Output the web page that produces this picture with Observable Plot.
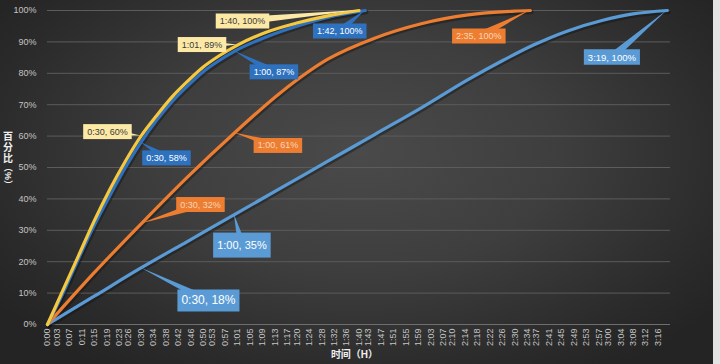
<!DOCTYPE html>
<html><head><meta charset="utf-8">
<script src="https://cdn.jsdelivr.net/npm/d3@7"></script>
<script src="https://cdn.jsdelivr.net/npm/@observablehq/plot@0.6"></script>
<style>
html,body{margin:0;padding:0;width:720px;height:364px;overflow:hidden;}
body{background: radial-gradient(ellipse 62% 72% at 50% 42%, #4a4a4a 0%, #3e3e3e 45%, #2a2a2a 85%, #242424 100%);}
#chart{position:absolute;left:0;top:0;}
#strip{position:absolute;right:0;top:0;width:7px;height:364px;background:#e4e4e4;}
</style></head><body><div id="chart"></div><div id="strip"></div>
<script>
// ---- data ----
const tickLabels = ["0:00","0:03","0:07","0:11","0:15","0:19","0:23","0:26","0:30","0:34","0:38","0:42","0:46","0:50","0:53","0:57","1:01","1:05","1:09","1:13","1:17","1:20","1:24","1:28","1:32","1:36","1:40","1:43","1:47","1:51","1:55","1:59","2:03","2:07","2:10","2:14","2:18","2:22","2:26","2:30","2:34","2:37","2:41","2:45","2:49","2:53","2:57","3:00","3:04","3:08","3:12","3:16"];
const yTicks = [0,0.1,0.2,0.3,0.4,0.5,0.6,0.7,0.8,0.9,1.0];

const seriesNames = ["浅蓝","橙","深蓝","黄"];
// minutes / share
const lightBlueT = [0,15,30,45,60,75,90,105,120,135,146,156,167,178,188,199];
const lightBlueV = [0,0.09,0.18,0.265,0.35,0.435,0.52,0.605,0.69,0.78,0.84,0.89,0.935,0.968,0.989,1.0];
const orangeT = [0,15,30,45,60,75,90,105,120,135,150,155];
const orangeV = [0,0.165,0.32,0.47,0.61,0.74,0.845,0.912,0.958,0.986,0.998,1.0];
const darkBlueT = [0,5,10,15,20,25,30,35,40,45,50,55,60,70,80,90,102];
const darkBlueV = [0,0.10,0.21,0.315,0.41,0.50,0.58,0.65,0.71,0.76,0.805,0.84,0.87,0.915,0.95,0.978,1.0];
const yellowT = [0,5,10,15,20,25,30,35,40,45,50,55,61,70,80,90,100];
const yellowV = [0,0.11,0.22,0.33,0.43,0.52,0.60,0.665,0.725,0.775,0.82,0.855,0.89,0.93,0.96,0.983,1.0];

const calloutText   = ["1:40, 100%","1:01, 89%","0:30, 60%","0:30, 58%","1:00, 87%","1:42, 100%","1:00, 61%","0:30, 32%","2:35, 100%","1:00, 35%","0:30, 18%","3:19, 100%"];
const calloutTime   = [100,61,30,30,60,102,60,30,155,60,30,199];
const calloutValue  = [1.0,0.89,0.60,0.58,0.87,1.0,0.61,0.32,1.0,0.35,0.18,1.0];
const calloutSeries = ["黄","黄","黄","深蓝","深蓝","深蓝","橙","橙","橙","浅蓝","浅蓝","浅蓝"];

const yTitleChars = ["百","分","比"];
const yTitleUnit = "（%）";
const xTitle = "时间（H）";

// ---- styles / layout ----
const lineColor = {"浅蓝":"#5b9bd5","橙":"#ed7d31","深蓝":"#2e72bf","黄":"#f5c842"};
const boxStyle = {
  "黄":   {fill:"#fde9a6", text:"#3a3a3a"},
  "深蓝": {fill:"#2e72bf", text:"#ffffff"},
  "橙":   {fill:"#ed7d31", text:"#fbd6b8"},
  "浅蓝": {fill:"#5b9bd5", text:"#ffffff"}
};
const calloutOffset = [[-116,11],[-35,0],[-33,-4],[26,16],[40,21],[-25,21],[44,13],[60,-19],[-51,26],[8,31],[68,33],[-55,47]];
const calloutFont = [9,9,9,9,9,9,9,9,9,11,12,9.5];
const calloutPadY = [3,3,3,3,3,3,3,3,3,7,5,3];
const FONT = "'Liberation Sans', 'Noto Sans CJK SC', sans-serif";

const tickMinutes = tickLabels.map(s => { const [h,m] = s.split(":").map(Number); return h*60+m; });
const labelOf = new Map(tickMinutes.map((m,i)=>[m,tickLabels[i]]));

function table(T,V,name){ return T.map((t,i)=>({t, v:V[i], s:name})); }
const seriesData = {
  "浅蓝": table(lightBlueT, lightBlueV, "浅蓝"),
  "橙": table(orangeT, orangeV, "橙"),
  "深蓝": table(darkBlueT, darkBlueV, "深蓝"),
  "黄": table(yellowT, yellowV, "黄")
};

const ctx = document.createElement("canvas").getContext("2d");
function measure(txt, fs){ ctx.font = `${fs}px ${FONT}`; return ctx.measureText(txt).width; }

function decorations(index, scales, values, dims){
  const g = d3.create("svg:g");
  calloutText.forEach((txt,i)=>{
    const px = scales.x(calloutTime[i]), py = scales.y(calloutValue[i]);
    const st = boxStyle[calloutSeries[i]];
    const [dx,dy] = calloutOffset[i];
    const fs = calloutFont[i];
    const w = measure(txt, fs) + 8, h = fs + calloutPadY[i]*2;
    const cx = px+dx, cy = py+dy;
    const ang = Math.atan2(py-cy, px-cx), hw = 4;
    const b1 = [cx - hw*Math.sin(ang), cy + hw*Math.cos(ang)];
    const b2 = [cx + hw*Math.sin(ang), cy - hw*Math.cos(ang)];
    g.append("path").attr("d", `M${b1}L${px},${py}L${b2}Z`).attr("fill", st.fill);
    g.append("rect").attr("x", cx-w/2).attr("y", cy-h/2).attr("width", w).attr("height", h).attr("fill", st.fill);
    g.append("text").attr("x", cx).attr("y", cy).attr("text-anchor","middle").attr("dominant-baseline","central")
      .attr("fill", st.text).attr("font-size", fs).attr("font-family", FONT).text(txt);
  });
  // x title
  g.append("text").attr("x", (dims.marginLeft + dims.width - dims.marginRight)/2 - 4).attr("y", 358)
    .attr("text-anchor","middle").attr("fill","#f0f0f0").attr("font-weight","bold").attr("font-size",10)
    .attr("font-family", FONT).text(xTitle);
  // y title: stacked CJK chars, rotated unit
  yTitleChars.forEach((c,i)=>{
    g.append("text").attr("x", 8).attr("y", 136 + i*11).attr("text-anchor","middle").attr("dominant-baseline","central")
      .attr("fill","#f0f0f0").attr("font-weight","bold").attr("font-size",10).attr("font-family", FONT).text(c);
  });
  g.append("text").attr("transform","translate(8,176) rotate(90)").attr("text-anchor","middle").attr("dominant-baseline","central")
    .attr("fill","#f0f0f0").attr("font-weight","bold").attr("font-size",9).attr("font-family", FONT).text(yTitleUnit);
  return g.node();
}

const marks = [
  Plot.gridY(yTicks, {stroke:"#5c5c5c", strokeOpacity:1, strokeWidth:1}),
  Plot.ruleY([0], {stroke:"#6e6e6e", strokeWidth:1.2}),
  Plot.axisY({ticks: yTicks, tickFormat: d3.format(".0%"), tickSize:0, tickPadding:11, label:null}),
  Plot.axisX({ticks: tickMinutes, tickFormat: d => labelOf.get(d), tickRotate:-90, tickSize:0, tickPadding:4, label:null})
];
for (const name of seriesNames) {
  marks.push(Plot.line(seriesData[name], {x:"t", y:"v", stroke:"#151515", strokeOpacity:0.45, strokeWidth:4.5, dx:1, dy:1.5, curve:"monotone-x"}));
}
for (const name of seriesNames) {
  marks.push(Plot.line(seriesData[name], {x:"t", y:"v", stroke: lineColor[name], strokeWidth:3.2, curve:"monotone-x"}));
}
marks.push(decorations);

const chart = Plot.plot({
  width:720, height:364,
  marginLeft:47, marginRight:50, marginTop:10, marginBottom:40,
  x:{type:"linear", domain:[0,200]},
  y:{domain:[0,1]},
  style:{background:"transparent", color:"#c4c4c4", fontSize:"9px", fontFamily:FONT},
  marks
});
document.getElementById("chart").appendChild(chart);
</script>
</body></html>
